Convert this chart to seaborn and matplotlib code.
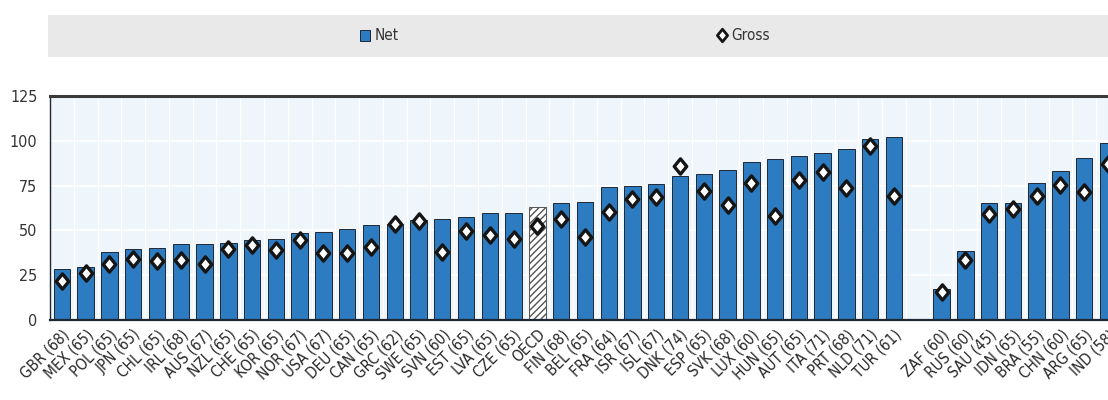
import numpy as np
import pandas as pd
import matplotlib
matplotlib.use("Agg")
import matplotlib.pyplot as plt
import seaborn as sns
from matplotlib import font_manager
from matplotlib.patches import Rectangle, Patch
from matplotlib.lines import Line2D
from matplotlib.path import Path

# data
countries = ["GBR (68)", "MEX (65)", "POL (65)", "JPN (65)", "CHL (65)", "IRL (68)",
             "AUS (67)", "NZL (65)", "CHE (65)", "KOR (65)", "NOR (67)", "USA (67)",
             "DEU (65)", "CAN (65)", "GRC (62)", "SWE (65)", "SVN (60)", "EST (65)",
             "LVA (65)", "CZE (65)", "OECD", "FIN (68)", "BEL (65)", "FRA (64)",
             "ISR (67)", "ISL (67)", "DNK (74)", "ESP (65)", "SVK (68)", "LUX (60)",
             "HUN (65)", "AUT (65)", "ITA (71)", "PRT (68)", "NLD (71)", "TUR (61)",
             " ",
             "ZAF (60)", "RUS (60)", "SAU (45)", "IDN (65)", "BRA (55)", "CHN (60)",
             "ARG (65)", "IND (58)"]

net = [28.7, 29.3, 38.0, 39.8, 40.2, 42.6, 42.6, 43.1, 44.4, 45.4, 48.7, 49.1,
       50.6, 53.2, 53.7, 55.6, 56.5, 57.4, 59.6, 59.8, 63.0, 65.2, 66.1, 74.1,
       74.8, 75.9, 80.4, 81.5, 83.7, 88.3, 89.6, 91.5, 93.0, 95.2, 100.9, 102.2,
       np.nan,
       17.2, 38.5, 65.2, 65.2, 76.3, 83.0, 90.4, 99.0]

gross = [21.7, 26.0, 31.5, 33.9, 32.8, 33.3, 31.5, 39.4, 41.7, 38.9, 44.8, 37.6,
         37.6, 40.5, 53.3, 55.2, 38.0, 49.4, 47.2, 45.4, 52.4, 56.5, 46.3, 60.2,
         67.6, 68.9, 86.1, 71.9, 63.9, 76.3, 58.3, 78.1, 82.8, 73.7, 96.9, 69.4,
         np.nan,
         15.4, 33.3, 59.3, 62.0, 69.4, 75.6, 71.3, 87.0]

df = pd.DataFrame({"country": countries, "net": net, "gross": gross})

blue = "#2D7CC2"
dark = "#1E2833"

# slightly tall diamond like the original marker
diamond = Path([(0, 1), (0.82, 0), (0, -1), (-0.82, 0), (0, 1)],
               [Path.MOVETO, Path.LINETO, Path.LINETO, Path.LINETO, Path.CLOSEPOLY])

# use a condensed face if the system has one
stretch = "normal"
for f in font_manager.fontManager.ttflist:
    if f.name == "DejaVu Sans" and f.stretch in ("condensed", "semi-condensed"):
        stretch = "condensed"
        break
if stretch == "condensed":
    main_font = "DejaVu Sans"
    xfs, yfs, lfs = 11, 11.5, 11
else:
    main_font = "Liberation Sans"
    xfs, yfs, lfs = 10.5, 12, 11.5

sns.set_style("white")
plt.rcParams["font.family"] = [main_font, "DejaVu Sans"]
plt.rcParams["font.stretch"] = stretch

fig = plt.figure(figsize=(11.08, 4.0), dpi=100)
ax = fig.add_axes([50 / 1108, 80 / 400, 1058 / 1108, 224 / 400])
ax.set_facecolor("#EEF5FB")

sns.barplot(data=df, x="country", y="net", order=countries, color=blue,
            saturation=1, width=0.69, edgecolor=dark, linewidth=0.7,
            errorbar=None, ax=ax, zorder=2)

# OECD average bar is hatched
oecd_pos = countries.index("OECD")
for p in ax.patches:
    if abs(p.get_x() + p.get_width() / 2 - oecd_pos) < 0.1:
        p.set_facecolor("white")
        p.set_hatch("/////")
        p.set_edgecolor("#555555")

sns.stripplot(data=df, x="country", y="gross", order=countries, jitter=False,
              marker=diamond, size=11, color="white", edgecolor="#151515",
              linewidth=2.4, ax=ax, zorder=5)

ax.set_xticks(range(len(countries)))
ax.set_xticklabels(countries, rotation=45, ha="right", rotation_mode="anchor",
                   fontsize=xfs, color="#262626")
ax.set_xticks(np.arange(-0.5, len(countries), 1), minor=True)
ax.tick_params(axis="x", which="major", length=0, pad=5)
ax.tick_params(axis="x", which="minor", direction="in", length=3, width=1,
               color=dark)
ax.tick_params(axis="y", direction="in", length=4, width=1, color=dark,
               labelsize=yfs, labelcolor="#333333", pad=9)

# limits after the ticks (set_xticks widens the view); the right edge cuts
# through the last bar, as in the original
ax.set_xlim(-0.5, len(countries) - 1)
ax.set_ylim(0, 125)
ax.set_yticks([0, 25, 50, 75, 100, 125])
ax.set_xlabel("")
ax.set_ylabel("")

ax.yaxis.grid(True, color="white", linewidth=1.2)
ax.xaxis.grid(True, which="minor", color="white", linewidth=1)
ax.set_axisbelow(True)

ax.spines["right"].set_visible(False)
ax.spines["top"].set_linewidth(2.2)
ax.spines["top"].set_color("#3A3A3A")
ax.spines["left"].set_linewidth(1)
ax.spines["left"].set_color(dark)
ax.spines["bottom"].set_linewidth(1.6)
ax.spines["bottom"].set_color(dark)

# legend band
fig.patches.append(Rectangle((48 / 1108, 1 - 57 / 400), 1 - 48 / 1108, 42 / 400,
                             transform=fig.transFigure, facecolor="#E9E9EA",
                             edgecolor="none", zorder=0))
net_handle = Patch(facecolor=blue, edgecolor=dark, linewidth=0.7)
gross_handle = Line2D([], [], marker=diamond, linestyle="none", markersize=9,
                      markerfacecolor="white", markeredgecolor="#151515",
                      markeredgewidth=2)
fig.legend([net_handle], ["Net"], loc="center left",
           bbox_to_anchor=(346 / 1108, 1 - 36 / 400), frameon=False,
           handlelength=0.7, handleheight=0.7, handletextpad=0.25,
           fontsize=lfs, labelcolor="#333333")
fig.legend([gross_handle], ["Gross"], loc="center left",
           bbox_to_anchor=(702 / 1108, 1 - 36 / 400), frameon=False,
           handlelength=0.8, handletextpad=0.2, fontsize=lfs,
           labelcolor="#333333")

fig.savefig("out.png", dpi=100)
